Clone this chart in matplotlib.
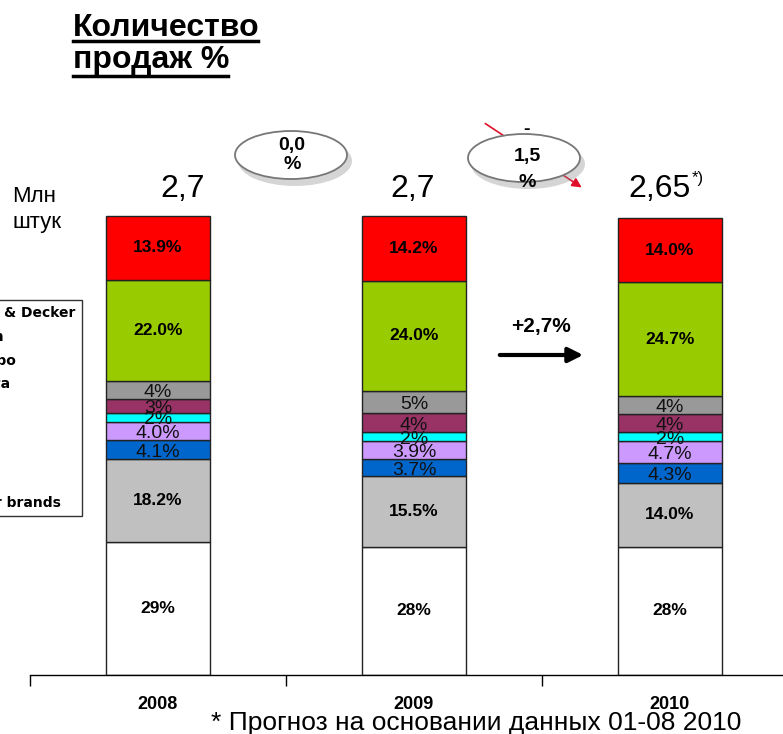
import matplotlib
matplotlib.use("Agg")
import matplotlib.pyplot as plt
from matplotlib.patches import Ellipse, Patch

plt.rcParams['font.family'] = ['Liberation Sans', 'DejaVu Sans']

# данные
years = ['2008', '2009', '2010']
brands = ['Black & Decker', 'Bosch', 'Metabo', 'Makita', 'AEG', 'Skil', 'Ryobi', 'Kress', 'Other brands']
colors = ['#FF0000', '#99CC00', '#999999', '#993366', '#00FFFF', '#CC99FF', '#0066CC', '#C0C0C0', '#FFFFFF']
# сверху вниз
shares_2008 = [13.9, 22.0, 4, 3, 2, 4.0, 4.1, 18.2, 29]
shares_2009 = [14.2, 24.0, 5, 4, 2, 3.9, 3.7, 15.5, 28]
shares_2010 = [14.0, 24.7, 4, 4, 2, 4.7, 4.3, 14.0, 28]
labels_2008 = ['13.9%', '22.0%', '4%', '3%', '2%', '4.0%', '4.1%', '18.2%', '29%']
labels_2009 = ['14.2%', '24.0%', '5%', '4%', '2%', '3.9%', '3.7%', '15.5%', '28%']
labels_2010 = ['14.0%', '24.7%', '4%', '4%', '2%', '4.7%', '4.3%', '14.0%', '28%']
totals = ['2,7', '2,7', '2,65']
changes = ['0,0\n%', '-\n1,5\n%']
growth = '+2,7%'

W, H = 783, 734
fig = plt.figure(figsize=(W / 100, H / 100), dpi=100)

ax = fig.add_axes([30 / W, (H - 675) / H, (W - 30) / W, 675 / H])
ax.set_xlim(-0.5, -0.5 + (W - 30) / 256)
ax.set_ylim(0, 100 * 675 / 458)

all_shares = [shares_2008, shares_2009, shares_2010]
all_labels = [labels_2008, labels_2009, labels_2010]
bar_w = 104 / 256
for i, (sh, lb) in enumerate(zip(all_shares, all_labels)):
    bottom = 0
    # снизу вверх
    for v, c, t in zip(sh[::-1], colors[::-1], lb[::-1]):
        ax.bar(i, v, bottom=bottom, width=bar_w, color=c, edgecolor='#222222', linewidth=1.0, zorder=2)
        if v >= 10:
            ax.text(i, bottom + v / 2, t, ha='center', va='center', fontsize=12.5, fontweight='bold', zorder=3)
        else:
            ax.text(i, bottom + v / 2 - 0.6, t, ha='center', va='center', fontsize=14, color='#111111', zorder=3)
        bottom += v

for s in ['top', 'right', 'left']:
    ax.spines[s].set_visible(False)
ax.spines['bottom'].set_linewidth(1.0)
ax.set_yticks([])
ax.set_xticks([-0.5, 0.5, 1.5])
ax.set_xticklabels([])
ax.tick_params(axis='x', which='major', length=8, width=1.0, direction='out')
ax.set_xticks(range(len(years)), minor=True)
ax.set_xticklabels(years, minor=True, fontsize=13, fontweight='bold')
ax.tick_params(axis='x', which='minor', length=0, pad=15)

# легенда, обрезанная слева
handles = [Patch(facecolor=c, edgecolor='black') for c in colors]
leg = fig.legend(handles, brands, loc='upper right', bbox_to_anchor=(82 / W, 1 - 300 / H),
                 frameon=True, fancybox=False, edgecolor='black', labelspacing=0.7,
                 borderpad=0.45, borderaxespad=0, handlelength=1.0,
                 prop={'family': 'DejaVu Sans', 'weight': 'bold', 'size': 10})
leg.get_frame().set_linewidth(1.0)

# надписи в пикселях
ov = fig.add_axes([0, 0, 1, 1], zorder=5)
ov.set_xlim(0, W)
ov.set_ylim(H, 0)
ov.axis('off')

ov.text(73, 36, 'Количество', fontsize=23, fontweight='bold', va='baseline')
ov.text(73, 68, 'продаж %', fontsize=23, fontweight='bold', va='baseline')
ov.plot([73, 258], [41, 41], color='black', lw=2.5)
ov.plot([73, 228], [76, 76], color='black', lw=2.5)

ov.text(12, 202, 'Млн', fontsize=16, va='baseline')
ov.text(12, 228, 'штук', fontsize=16, va='baseline')

ov.text(183, 197, totals[0], fontsize=23, ha='center', va='baseline')
ov.text(413, 197, totals[1], fontsize=23, ha='center', va='baseline')
ov.text(691, 197, totals[2], fontsize=23, ha='right', va='baseline')
ov.text(692, 183, '*)', fontsize=12, ha='left', va='baseline')

# красная стрелка за эллипсом
ov.annotate('', xy=(584, 189), xytext=(483, 122),
            arrowprops=dict(arrowstyle='-|>', color='#E0102A', lw=1.2, mutation_scale=14), zorder=1)

for cx, cy in [(291, 155), (524, 158)]:
    ov.add_patch(Ellipse((cx + 4, cy + 6), 114, 50, facecolor='#888888', alpha=0.35, edgecolor='none', zorder=2))
    ov.add_patch(Ellipse((cx, cy), 112, 48, facecolor='white', edgecolor='#777777', lw=1.3, zorder=3))

ov.text(292, 155, changes[0], fontsize=14, fontweight='bold', ha='center', va='center',
        linespacing=1.2, zorder=4)
ov.text(527, 156, changes[1], fontsize=14, fontweight='bold', ha='center', va='center',
        linespacing=1.75, zorder=4)

ov.annotate('', xy=(586, 355), xytext=(497, 355),
            arrowprops=dict(arrowstyle='-|>', color='black', lw=3, mutation_scale=22))
ov.text(541, 332, growth, fontsize=15, fontweight='bold', ha='center', va='baseline')

ov.text(476, 730, '* Прогноз на основании данных 01-08 2010', fontsize=19,
        ha='center', va='baseline')

fig.savefig('out.png', dpi=100)
